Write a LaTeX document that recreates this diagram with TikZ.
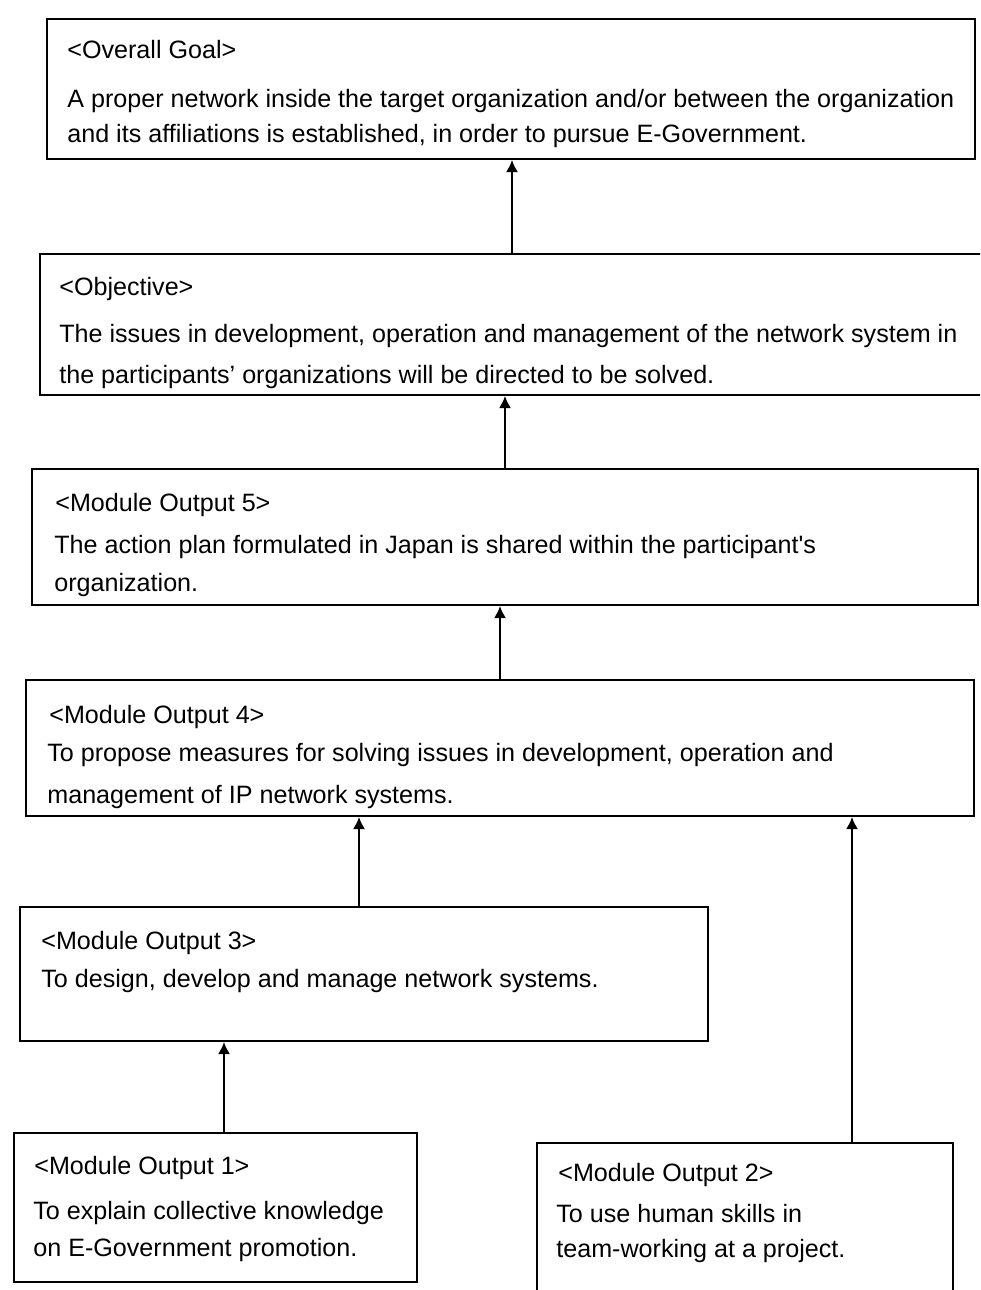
\documentclass[tikz,border=0pt]{standalone}
\usepackage{fontspec}
\setmainfont{Liberation Sans}
\usetikzlibrary{fit,arrows.meta}

\begin{document}
\begin{tikzpicture}[x=0.02cm, y=-0.02cm,
  box/.style={draw, line width=1pt, inner sep=0pt},
  txt/.style={anchor=base west, inner sep=0pt, font=\fontsize{14.3}{16}\selectfont},
  arr/.style={-{Latex[length=7pt,width=7pt]}, line width=1.3pt}]
  \useasboundingbox (0,0) rectangle (980,1290);
  \clip (0,0) rectangle (980,1290);
  % boxes
  \node [box, fit={(47,19) (975,159)}] (goal) {};
  \node [box, fit={(40,254) (985,395)}] (obj) {};
  \node [box, fit={(32,469) (978,605)}] (out5) {};
  \node [box, fit={(26,680) (974,816)}] (out4) {};
  \node [box, fit={(20,907) (708,1041)}] (out3) {};
  \node [box, fit={(14,1133) (417,1282)}] (out1) {};
  \node [box, fit={(537,1143) (953,1310)}] (out2) {};
  % texts
  \node [txt] (goalT) at (67,59) {<Overall Goal>};
  \node [txt] (goalA) at (67,108) {A proper network inside the target organization and/or between the organization};
  \node [txt] (goalB) at (67,143) {and its affiliations is established, in order to pursue E-Government.};
  \node [txt] (objT) at (59,296) {<Objective>};
  \node [txt] (objA) at (59,343) {The issues in development, operation and management of the network system in};
  \node [txt] (objB) at (59,383) {the participants’ organizations will be directed to be solved.};
  \node [txt] (out5T) at (55,511) {<Module Output 5>};
  \node [txt] (out5A) at (54,553) {The action plan formulated in Japan is shared within the participant\textquotesingle s};
  \node [txt] (out5B) at (54,591) {organization.};
  \node [txt] (out4T) at (49,723) {<Module Output 4>};
  \node [txt] (out4A) at (47,761) {To propose measures for solving issues in development, operation and};
  \node [txt] (out4B) at (47,803) {management of IP network systems.};
  \node [txt] (out3T) at (41,949) {<Module Output 3>};
  \node [txt] (out3A) at (41,987) {To design, develop and manage network systems.};
  \node [txt] (out1T) at (34,1174) {<Module Output 1>};
  \node [txt] (out1A) at (33,1219) {To explain collective knowledge};
  \node [txt] (out1B) at (33,1256) {on E-Government promotion.};
  \node [txt] (out2T) at (558,1181) {<Module Output 2>};
  \node [txt] (out2A) at (556,1222) {To use human skills in};
  \node [txt] (out2B) at (556,1257) {team-working at a project.};
  % arrows
  \coordinate (x1) at (512,0);
  \coordinate (x2) at (505,0);
  \coordinate (x3) at (500,0);
  \coordinate (x4) at (359,0);
  \coordinate (x5) at (224,0);
  \coordinate (x6) at (852,0);
  \draw [arr] (x1 |- obj.north) -- (x1 |- goal.south);
  \draw [arr] (x2 |- out5.north) -- (x2 |- obj.south);
  \draw [arr] (x3 |- out4.north) -- (x3 |- out5.south);
  \draw [arr] (x4 |- out3.north) -- (x4 |- out4.south);
  \draw [arr] (x5 |- out1.north) -- (x5 |- out3.south);
  \draw [arr] (x6 |- out2.north) -- (x6 |- out4.south);
\end{tikzpicture}
\end{document}
